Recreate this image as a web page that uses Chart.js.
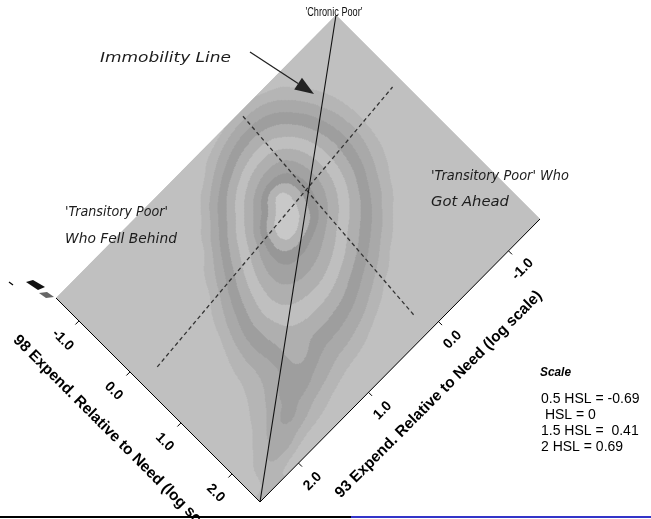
<!DOCTYPE html>
<html><head><meta charset="utf-8">
<script src="https://cdn.jsdelivr.net/npm/chart.js@4.4.0/dist/chart.umd.min.js"></script>
<style>html,body{margin:0;padding:0;background:#fff;overflow:hidden}#wrap{width:651px;height:519px;position:relative}</style>
</head><body><div id="wrap"><canvas id="c" width="651" height="519"></canvas></div>
<script>
// ---------------- data ----------------
const axisMin = -1.45, axisMax = 2.55;               // log expenditure relative to need, both years
const gridValues93 = [-1.5,-1.25,-1,-0.75,-0.5,-0.25,0,0.25,0.5,0.75,1,1.25,1.5,1.75,2,2.25,2.5];
const gridValues98 = [-1.5,-1.25,-1,-0.75,-0.5,-0.25,0,0.25,0.5,0.75,1,1.25,1.5,1.75,2,2.25,2.5];
// density estimate: one row per 93 value, one column per 98 value
const densityRows = [
 [0,0,0,0,0,0,0,0,0,0,0,0,0,0,0,0,0],
 [0,0,0,0,0,0,0,0,0,0,0,0,0,0,0,0,0],
 [0,0,0,0.2,0.3,0.4,0.3,0.2,0,0,0,0,0,0,0,0,0],
 [0,0.2,0.9,1.5,2.0,2.2,2.1,1.7,1.1,0.4,0,0,0,0,0,0,0],
 [0.2,1.4,2.4,3.3,3.9,4.2,4.1,3.7,2.9,2.0,0.9,0.1,0,0,0,0,0],
 [0.9,2.4,3.8,4.9,5.8,6.2,6.2,5.7,4.8,3.7,2.5,1.2,0.1,0,0,0,0],
 [1.0,2.7,4.4,6.0,7.4,8.3,8.3,7.6,6.4,5.1,3.9,2.6,1.3,0.1,0,0,0],
 [0.5,2.3,4.1,5.9,7.7,10.1,10.4,9.6,7.7,6.4,5.1,3.7,2.4,1.1,0,0,0],
 [0,1.3,3.0,4.8,6.4,7.9,9.9,10.0,8.3,7.1,5.9,4.6,3.3,2.0,0.7,0,0],
 [0,0,1.4,3.0,4.4,5.8,6.9,7.7,7.7,7.0,6.0,4.9,3.7,2.5,1.3,0.1,0],
 [0,0,0,0.9,2.3,3.6,4.7,5.6,6.1,6.1,5.6,4.8,3.8,2.7,1.6,0.4,0],
 [0,0,0,0,0.2,1.4,2.5,3.5,4.2,4.6,4.5,4.3,4.3,3.3,2.1,0.8,0],
 [0,0,0,0,0,0.1,0.5,1.4,2.2,2.8,3.0,2.9,3.0,3.8,2.6,1.3,0],
 [0,0,0,0,0,0,0,0.1,0.4,0.9,1.3,1.5,1.9,2.6,3.2,1.8,0],
 [0,0,0,0,0,0,0,0,0,0,0.2,0.4,0.8,1.4,2.2,2.3,0.5],
 [0,0,0,0,0,0,0,0,0,0,0,0,0,0.3,1.0,1.8,1.1],
 [0,0,0,0,0,0,0,0,0,0,0,0,0,0,0,0.4,1.1]
];
const contourLevels = [1,2,3,4,5,6,7,8,9,10];
const bandColors = ['#c0c0c0','#b5b5b5','#a9a9a9','#9e9e9e','#afafaf','#bfbfbf','#afafaf','#a2a2a2','#979797','#b3b3b3','#c8c8c8'];
const ticks93 = [-1,0,1,2];
const ticks98 = [-1,0,1,2];
const tickLabels93 = ['-1.0','0.0','1.0','2.0'];
const tickLabels98 = ['-1.0','0.0','1.0','2.0'];
const immobility93 = [axisMin, axisMax];
const immobility98 = [axisMin, axisMax];
const povertyA93 = [2.32, -1.34], povertyA98 = [0.22, -0.19];
const povertyB93 = [-0.07, 0.13], povertyB98 = [-1.38, 2.27];
const title93 = '93 Expend. Relative to Need (log scale)';
const title98 = '98 Expend. Relative to Need (log scale)';
const scaleTitle = 'Scale';
const scaleLines = ['0.5 HSL = -0.69',' HSL = 0','1.5 HSL =  0.41','2 HSL = 0.69'];

// ---------------- layout ----------------
const corner = { bottom:[260,502], right:[540,219], left:[56,298] };

function catmull(p0,p1,p2,p3,t){
  return 0.5*((2*p1)+(-p0+p2)*t+(2*p0-5*p1+4*p2-p3)*t*t+(-p0+3*p1-3*p2+p3)*t*t*t);
}
function densityAt(u,v){
  const nU=gridValues93.length, nV=gridValues98.length;
  const su=gridValues93[1]-gridValues93[0], sv=gridValues98[1]-gridValues98[0];
  let fu=(u-gridValues93[0])/su, fv=(v-gridValues98[0])/sv;
  fu=Math.max(0,Math.min(nU-1,fu)); fv=Math.max(0,Math.min(nV-1,fv));
  const i=Math.min(Math.floor(fu),nU-2), j=Math.min(Math.floor(fv),nV-2);
  const tu=fu-i, tv=fv-j;
  const g=(a,b)=>densityRows[Math.max(0,Math.min(nU-1,a))][Math.max(0,Math.min(nV-1,b))];
  const col=[];
  for(let k=-1;k<=2;k++) col.push(catmull(g(i+k,j-1),g(i+k,j),g(i+k,j+1),g(i+k,j+2),tv));
  return catmull(col[0],col[1],col[2],col[3],tu);
}
function hexToRgb(h){const n=parseInt(h.slice(1),16);return [(n>>16)&255,(n>>8)&255,n&255];}

function getMatrix(chart){
  const xs=chart.scales.x, ys=chart.scales.y;
  const xL=xs.getPixelForValue(axisMin), xH=xs.getPixelForValue(axisMax);
  const yT=ys.getPixelForValue(axisMax), yB=ys.getPixelForValue(axisMin);
  const B=corner.bottom, RB=[corner.right[0]-B[0],corner.right[1]-B[1]], LB=[corner.left[0]-B[0],corner.left[1]-B[1]];
  const w=xH-xL, h=yB-yT;
  return {a:-RB[0]/w, b:-RB[1]/w, c:LB[0]/h, d:LB[1]/h,
          e:B[0]+xH/w*RB[0]-yT/h*LB[0], f:B[1]+xH/w*RB[1]-yT/h*LB[1], xL, xH, yT, yB};
}
function toScreen(chart,u,v){
  const m=getMatrix(chart);
  const px=chart.scales.x.getPixelForValue(u), py=chart.scales.y.getPixelForValue(v);
  return [m.a*px+m.c*py+m.e, m.b*px+m.d*py+m.f];
}
function buildDensityImage(chart){
  const xs=chart.scales.x, ys=chart.scales.y, m=getMatrix(chart);
  const W=Math.round((m.xH-m.xL)), H=Math.round((m.yB-m.yT));
  const off=document.createElement('canvas'); off.width=W; off.height=H;
  const octx=off.getContext('2d'); const img=octx.createImageData(W,H);
  const rgb=bandColors.map(hexToRgb);
  for(let j=0;j<H;j++){
    const v=ys.getValueForPixel(m.yT+(j+0.5)*(m.yB-m.yT)/H);
    for(let i=0;i<W;i++){
      const u=xs.getValueForPixel(m.xL+(i+0.5)*(m.xH-m.xL)/W);
      const d=densityAt(u,v);
      let band=0; for(let k=0;k<contourLevels.length;k++) if(d>=contourLevels[k]) band=k+1;
      const c=rgb[band], p=(j*W+i)*4;
      img.data[p]=c[0]; img.data[p+1]=c[1]; img.data[p+2]=c[2]; img.data[p+3]=255;
    }
  }
  octx.putImageData(img,0,0);
  return {canvas:off, x:m.xL, y:m.yT, w:m.xH-m.xL, h:m.yB-m.yT};
}
function fitText(ctx,txt,x,y,font,width,color,align){
  ctx.save(); ctx.font=font; ctx.fillStyle=color; ctx.textBaseline='alphabetic'; ctx.textAlign='left';
  const w=ctx.measureText(txt).width; const s=width?width/w:1;
  let x0=x; if(align==='center') x0=x-w*s/2;
  ctx.translate(x0,y); ctx.scale(s,1); ctx.fillText(txt,0,0); ctx.restore();
}
function rotText(ctx,txt,x,y,ang,font,align,base,color){
  ctx.save(); ctx.translate(x,y); ctx.rotate(ang); ctx.font=font; ctx.fillStyle=color||'#000';
  ctx.textAlign=align; ctx.textBaseline=base; ctx.fillText(txt,0,0); ctx.restore();
}
function drawOverlay(chart){
  const ctx=chart.ctx;
  ctx.save();
  // axes
  ctx.strokeStyle='#000'; ctx.lineWidth=1;
  const B=toScreen(chart,axisMax,axisMax), R=toScreen(chart,axisMin,axisMax), L=toScreen(chart,axisMax,axisMin);
  ctx.beginPath(); ctx.moveTo(R[0],R[1]); ctx.lineTo(B[0],B[1]); ctx.lineTo(L[0],L[1]); ctx.stroke();
  const s2=Math.SQRT1_2;
  const n93=[s2,s2], n98=[-s2,s2];
  const tf='bold 14px "Liberation Sans", Arial';
  ticks93.forEach((t,i)=>{
    const p=toScreen(chart,t,axisMax);
    ctx.beginPath(); ctx.moveTo(p[0],p[1]); ctx.lineTo(p[0]+n93[0]*5,p[1]+n93[1]*5); ctx.stroke();
    rotText(ctx,tickLabels93[i],p[0]+n93[0]*23-3*s2,p[1]+n93[1]*23+3*s2,-Math.PI/4,tf,'center','middle','#000');
  });
  ticks98.forEach((t,i)=>{
    const p=toScreen(chart,axisMax,t);
    ctx.beginPath(); ctx.moveTo(p[0],p[1]); ctx.lineTo(p[0]+n98[0]*5,p[1]+n98[1]*5); ctx.stroke();
    rotText(ctx,tickLabels98[i],p[0]+n98[0]*25+2*s2,p[1]+n98[1]*25+2*s2,Math.PI/4,tf,'center','middle','#000');
  });
  rotText(ctx,title93,340.7,498.4,-Math.PI/4,'bold 15.4px "Liberation Sans", Arial','left','alphabetic','#000');
  rotText(ctx,title98,12.6,340.7,Math.PI/4,'bold 15.4px "Liberation Sans", Arial','left','alphabetic','#000');
  // region labels
  const it='italic 13.5px "DejaVu Sans"';
  fitText(ctx,"'Chronic Poor'",334,16,'12px "Liberation Sans", Arial',57,'#111','center');
  fitText(ctx,'Immobility Line',100,62,it,131,'#1c1c1c');
  fitText(ctx,"'Transitory Poor' Who",431,180,it,138,'#1c1c1c');
  fitText(ctx,'Got Ahead',431,206,it,78,'#1c1c1c');
  fitText(ctx,"'Transitory Poor'",65,216,it,103,'#1c1c1c');
  fitText(ctx,'Who Fell Behind',65,243,it,112,'#1c1c1c');
  // arrow
  const tail=[250,52], tip=[314,94];
  const dx=tip[0]-tail[0], dy=tip[1]-tail[1], len=Math.hypot(dx,dy), ux=dx/len, uy=dy/len;
  const bx=tip[0]-ux*19, by=tip[1]-uy*19;
  ctx.strokeStyle='#222'; ctx.lineWidth=1.3;
  ctx.beginPath(); ctx.moveTo(tail[0],tail[1]); ctx.lineTo(bx,by); ctx.stroke();
  ctx.fillStyle='#222'; ctx.beginPath(); ctx.moveTo(tip[0],tip[1]);
  ctx.lineTo(bx-uy*7,by+ux*7); ctx.lineTo(bx+uy*7,by-ux*7); ctx.closePath(); ctx.fill();
  // legend remnants
  ctx.fillStyle='#111'; ctx.beginPath(); ctx.moveTo(26,282); ctx.lineTo(33,280); ctx.lineTo(45,287); ctx.lineTo(38,290); ctx.closePath(); ctx.fill();
  ctx.fillStyle='#666'; ctx.beginPath(); ctx.moveTo(39,293); ctx.lineTo(47,292); ctx.lineTo(54,297); ctx.lineTo(46,298); ctx.closePath(); ctx.fill();
  ctx.strokeStyle='#000'; ctx.lineWidth=1.2; ctx.beginPath(); ctx.moveTo(9,282); ctx.lineTo(13,285); ctx.stroke();
  // scale note
  fitText(ctx,scaleTitle,540,376,'italic bold 13px "Liberation Sans", Arial',31,'#000');
  scaleLines.forEach((s,i)=>fitText(ctx,s,541,403+16*i,'14px "Liberation Sans", Arial',null,'#000'));
  // bottom rule
  ctx.fillStyle='#000'; ctx.fillRect(0,516,351,2);
  ctx.fillStyle='#3434c8'; ctx.fillRect(351,516,300,2);
  ctx.restore();
}
const diamondPlugin={
  id:'diamond',
  beforeDatasetsDraw(chart){
    const ctx=chart.ctx, m=getMatrix(chart);
    ctx.save(); ctx.transform(m.a,m.b,m.c,m.d,m.e,m.f);
    ctx.fillStyle=bandColors[0]; ctx.fillRect(m.xL,m.yT,m.xH-m.xL,m.yB-m.yT);
    if(!chart.$densityImg) chart.$densityImg=buildDensityImage(chart);
    const im=chart.$densityImg; ctx.imageSmoothingEnabled=true;
    ctx.drawImage(im.canvas,im.x,im.y,im.w,im.h);
  },
  afterDatasetsDraw(chart){ chart.ctx.restore(); drawOverlay(chart); }
};
const pts=(xs,ys)=>xs.map((x,i)=>({x,y:ys[i]}));
new Chart(document.getElementById('c'),{
  type:'scatter',
  data:{datasets:[
    {label:'Immobility line',data:pts(immobility93,immobility98),showLine:true,borderColor:'#111',borderWidth:1.1,pointRadius:0},
    {label:'Poverty line A',data:pts(povertyA93,povertyA98),showLine:true,borderColor:'#333',borderWidth:1.3,borderDash:[4,3],pointRadius:0},
    {label:'Poverty line B',data:pts(povertyB93,povertyB98),showLine:true,borderColor:'#333',borderWidth:1.3,borderDash:[4,3],pointRadius:0}
  ]},
  options:{
    responsive:false, animation:false, devicePixelRatio:1,
    layout:{padding:{left:125,right:126,top:114,bottom:115}},
    scales:{x:{type:'linear',min:axisMin,max:axisMax,display:false},y:{type:'linear',min:axisMin,max:axisMax,display:false}},
    plugins:{legend:{display:false},tooltip:{enabled:false}},
    events:[]
  },
  plugins:[diamondPlugin]
});
</script></body></html>
